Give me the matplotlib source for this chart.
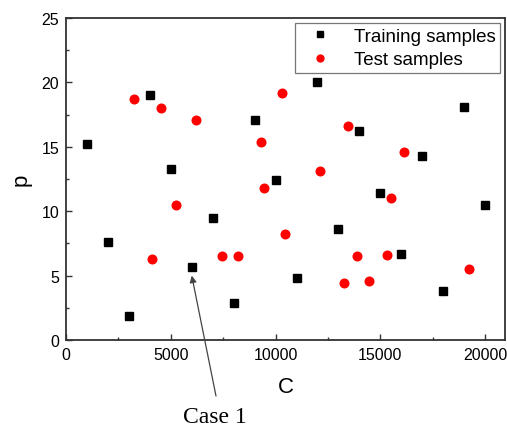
import matplotlib
matplotlib.use("Agg")
import matplotlib.pyplot as plt
from matplotlib.ticker import MultipleLocator

train_C = [1000, 2000, 3000, 4000, 5000, 6000, 7000, 8000, 9000, 10000,
           11000, 12000, 13000, 14000, 15000, 16000, 17000, 18000, 19000, 20000]
train_p = [15.2, 7.6, 1.9, 19.0, 13.3, 5.7, 9.5, 2.9, 17.1, 12.4,
           4.8, 20.0, 8.6, 16.2, 11.4, 6.7, 14.3, 3.8, 18.1, 10.5]

test_C = [3260, 4530, 6220, 9310, 10310, 13460, 16130, 12110, 9440, 5250,
          10470, 15530, 4100, 7460, 8230, 13900, 15340, 13280, 14480, 19220]
test_p = [18.7, 18.0, 17.1, 15.4, 19.2, 16.6, 14.6, 13.1, 11.8, 10.5,
          8.2, 11.0, 6.3, 6.5, 6.5, 6.5, 6.6, 4.4, 4.6, 5.5]

xticks = [0, 5000, 10000, 15000, 20000]
yticks = [0, 5, 10, 15, 20, 25]

W, H = 507, 427
fig = plt.figure(figsize=(W / 100, H / 100), dpi=100)
ax = fig.add_axes([66 / W, 1 - 341 / H, (505 - 66) / W, (341 - 19) / H])

ax.plot(train_C, train_p, ls="none", marker="s", ms=5.8, color="black",
        label="Training samples")
ax.plot(test_C, test_p, ls="none", marker="o", ms=6.2, color="#ff0000",
        mec="#ff0000", label="Test samples")

ax.set_xlim(0, 20950)
ax.set_ylim(0, 25)
ax.set_xticks(xticks)
ax.set_yticks(yticks)
ax.xaxis.set_minor_locator(MultipleLocator(2500))
ax.yaxis.set_minor_locator(MultipleLocator(2.5))
ax.tick_params(which="both", direction="in", top=False, right=False,
               labelsize=11.5, colors="#333333", width=1.0)
ax.tick_params(which="major", length=4.5)
ax.tick_params(which="minor", length=2.5)
ax.tick_params(axis="x", pad=5)
ax.tick_params(axis="y", pad=5)
for lab in ax.get_xticklabels() + ax.get_yticklabels():
    lab.set_fontfamily("Liberation Sans")
    lab.set_color("black")
for s in ax.spines.values():
    s.set_linewidth(1.3)
    s.set_color("#333333")

ax.set_xlabel("C", fontsize=16, fontfamily="Liberation Sans", labelpad=10)
ax.set_ylabel("p", fontsize=16, fontfamily="Liberation Sans", labelpad=7)

leg = ax.legend(loc="upper right", frameon=True, fancybox=False,
                edgecolor="#555555", borderpad=0.25, handletextpad=0.7,
                handlelength=2.2, labelspacing=0.36, borderaxespad=0.25,
                markerscale=0.8,
                prop={"family": "Liberation Sans", "size": 13.5})
leg.get_frame().set_linewidth(0.9)

ax.annotate("", xy=(6000, 5.0), xycoords="data",
            xytext=(216 / W, 1 - 397 / H), textcoords="figure fraction",
            annotation_clip=False,
            arrowprops=dict(arrowstyle="-|>", color="#444444", lw=0.9,
                            mutation_scale=10, shrinkA=0, shrinkB=0))
fig.text(215 / W, 1 - 418 / H, "Case 1", ha="center", va="center",
         fontsize=17, fontfamily="Liberation Serif")

fig.savefig("out.png", dpi=100)
